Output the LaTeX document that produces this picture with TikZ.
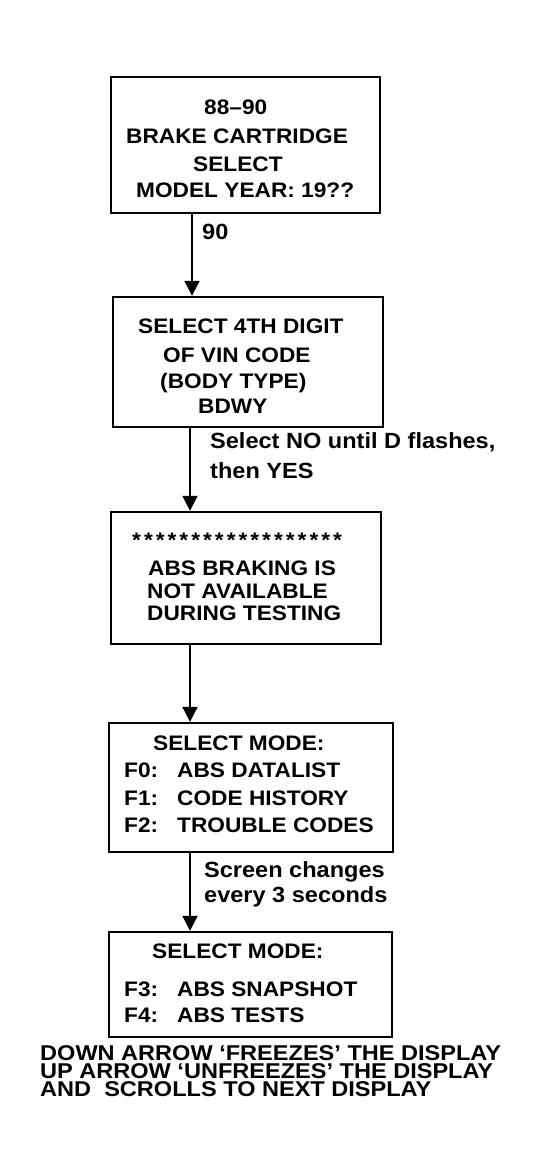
\documentclass[tikz,border=0pt]{standalone}
\usepackage{fontspec}
\setmainfont{Liberation Sans}
\newfontfamily\bxfam[FakeStretch=1.08]{Liberation Sans}
\newfontfamily\lbfam[FakeStretch=1.07]{Liberation Sans}
\newfontfamily\btfam[FakeStretch=1.1]{Liberation Sans}
\usetikzlibrary{arrows.meta}
\newcommand\stsp{\hspace{3.0pt}}
\begin{document}
\begin{tikzpicture}[x=1pt,y=-1pt,
  box/.style={draw, line width=2.4pt, rectangle, inner sep=0pt},
  txt/.style={anchor=base west, inner sep=0pt, font=\bxfam\bfseries\fontsize{21}{28}\selectfont},
  lbl/.style={anchor=base west, inner sep=0pt, font=\lbfam\bfseries\fontsize{22}{28}\selectfont},
  note/.style={anchor=north west, inner sep=0pt, align=left, font=\btfam\bfseries\fontsize{21.4}{18.3}\selectfont},
  arr/.style={line width=2pt, -{Triangle[width=15pt,length=15pt]}}]
\useasboundingbox (0,0) rectangle (539,1174);
% boxes
\node[box, minimum width=269pt, minimum height=136pt] (b1) at (245.5,145) {};
\node[box, minimum width=270pt, minimum height=130pt] (b2) at (248,362) {};
\node[box, minimum width=270pt, minimum height=132pt] (b3) at (246,578) {};
\node[box, minimum width=284pt, minimum height=129pt] (b4) at (251,787.5) {};
\node[box, minimum width=283pt, minimum height=105pt] (b5) at (250.5,984.5) {};
% box 1 text
\node[txt] (t11) at (204,115) {88–90};
\node[txt] (t12) at (126,144) {BRAKE CARTRIDGE};
\node[txt] (t13) at (193,172) {SELECT};
\node[txt] (t14) at (136,198) {MODEL YEAR: 19??};
% box 2 text
\node[txt] (t21) at (138,333) {SELECT 4TH DIGIT};
\node[txt] (t22) at (163,362) {OF VIN CODE};
\node[txt] (t23) at (160,388) {(BODY TYPE)};
\node[txt] (t24) at (198,413) {BDWY};
% box 3 text
\node[txt] (t30) at (132,547) {*\stsp*\stsp*\stsp*\stsp*\stsp*\stsp*\stsp*\stsp*\stsp*\stsp*\stsp*\stsp*\stsp*\stsp*\stsp*\stsp*\stsp*};
\node[txt] (t31) at (148,575) {ABS BRAKING IS};
\node[txt] (t32) at (147,598) {NOT AVAILABLE};
\node[txt] (t33) at (147,620) {DURING TESTING};
% box 4 text
\node[txt] (t41) at (153,750) {SELECT MODE:};
\node[txt] (t42) at (124,777) {F0:};
\node[txt] (t43) at (177,777) {ABS DATALIST};
\node[txt] (t44) at (124,805) {F1:};
\node[txt] (t45) at (177,805) {CODE HISTORY};
\node[txt] (t46) at (124,832) {F2:};
\node[txt] (t47) at (177,832) {TROUBLE CODES};
% box 5 text
\node[txt] (t51) at (152,958) {SELECT MODE:};
\node[txt] (t52) at (124,996) {F3:};
\node[txt] (t53) at (177,996) {ABS SNAPSHOT};
\node[txt] (t54) at (124,1022) {F4:};
\node[txt] (t55) at (177,1022) {ABS TESTS};
% connectors
\coordinate (x1) at (192,0);
\coordinate (x2) at (190,0);
\draw[arr] (x1 |- b1.south) -- (x1 |- b2.north);
\draw[arr] (x2 |- b2.south) -- (x2 |- b3.north);
\draw[arr] (x2 |- b3.south) -- (x2 |- b4.north);
\draw[arr] (x2 |- b4.south) -- (x2 |- b5.north);
% connector labels
\node[lbl] (l1) at (202,240) {90};
\node[lbl] (l2) at (210,448) {Select NO until D flashes,};
\node[lbl] (l3) at (210,478) {then YES};
\node[lbl] (l4) at (204,877) {Screen changes};
\node[lbl] (l5) at (204,902) {every 3 seconds};
% bottom note
\node[note] (n1) at (40,1045) {DOWN ARROW ‘FREEZES’ THE DISPLAY\\UP ARROW ‘UNFREEZES’ THE DISPLAY\\AND\ \ SCROLLS TO NEXT DISPLAY};
\end{tikzpicture}
\end{document}
